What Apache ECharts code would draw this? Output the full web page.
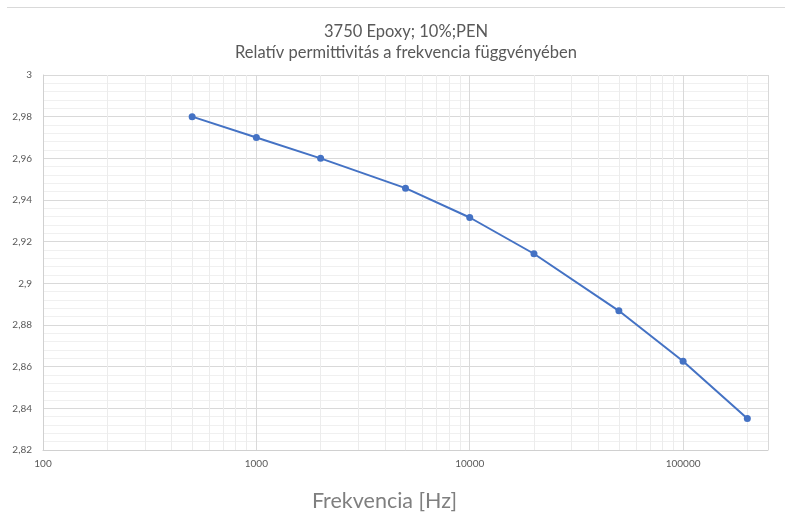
<!DOCTYPE html>
<html>
<head>
<meta charset="utf-8">
<script src="https://cdn.jsdelivr.net/npm/echarts@6/dist/echarts.min.js"></script>
<style>html,body{margin:0;padding:0;background:#fff}#c{width:785px;height:517px}</style>
</head>
<body>
<div id="c"></div>
<script>
const titleLines = ["3750 Epoxy; 10%;PEN", "Relatív permittivitás a frekvencia függvényében"];
const xAxisTitle = "Frekvencia [Hz]";
const frequencies = [500, 1000, 2000, 5000, 10000, 20000, 50000, 100000, 200000];
const permittivity = [2.98, 2.97, 2.96, 2.9457, 2.9316, 2.9142, 2.8868, 2.8626, 2.8351];
const xMin = 100, xMax = 250000;
const yMin = 2.82, yMax = 3, yStep = 0.02;
const minorXTicks = [200,300,400,500,600,700,800,900,
  2000,3000,4000,5000,6000,7000,8000,9000,
  20000,30000,40000,50000,60000,70000,80000,90000,
  200000];

const chart = echarts.init(document.getElementById('c'), null, {renderer: 'canvas'});
const font = 'Lato, "Open Sans", sans-serif';
chart.setOption({
  animation: false,
  backgroundColor: '#fff',
  title: {
    text: titleLines.join('\n'),
    left: 401,
    textAlign: 'center',
    top: 16,
    textStyle: {fontFamily: font, fontSize: 16.5, fontWeight: 'normal', color: '#595959', lineHeight: 21}
  },
  graphic: [{
    type: 'line', shape: {x1: 7, y1: 7.5, x2: 785, y2: 7.5},
    style: {stroke: '#d9d9d9', lineWidth: 1}
  }],
  grid: {left: 43, right: 17, top: 75, bottom: 63, containLabel: false},
  xAxis: {
    type: 'log', logBase: 10, min: xMin, max: xMax,
    name: xAxisTitle, nameLocation: 'middle', nameGap: 40,
    nameTextStyle: {fontFamily: font, fontSize: 21.5, color: '#7f7f7f', padding: [0, 42, 0, 0]},
    axisLine: {show: true, lineStyle: {color: '#d0d0d0', width: 1}},
    axisTick: {show: false},
    axisLabel: {fontFamily: font, fontSize: 10, color: '#595959', margin: 9, showMaxLabel: false,
      formatter: v => String(Math.round(v))},
    splitLine: {show: true, lineStyle: {color: '#d9d9d9', width: 1}},
    minorTick: {show: false},
    minorSplitLine: {show: false}
  },
  yAxis: {
    type: 'value', min: yMin, max: yMax, interval: yStep,
    axisLine: {show: true, lineStyle: {color: '#d0d0d0', width: 1}},
    axisTick: {show: false},
    axisLabel: {fontFamily: font, fontSize: 10, color: '#595959', margin: 11,
      formatter: v => String(+v.toFixed(2)).replace('.', ',')},
    splitLine: {show: true, lineStyle: {color: '#d9d9d9', width: 1}},
    minorTick: {show: false, splitNumber: 5},
    minorSplitLine: {show: true, lineStyle: {color: '#f0f0f0', width: 1}}
  },
  series: [{
    type: 'line',
    data: frequencies.map((f, i) => [f, permittivity[i]]),
    symbol: 'circle', symbolSize: 7,
    lineStyle: {color: '#4472C4', width: 2},
    itemStyle: {color: '#4472C4'},
    z: 5,
    markLine: {
      silent: true, symbol: 'none', label: {show: false},
      lineStyle: {color: '#ececec', width: 1, type: 'solid'},
      data: minorXTicks.map(v => ({xAxis: v})),
      z: 1
    }
  }]
});
</script>
</body>
</html>
